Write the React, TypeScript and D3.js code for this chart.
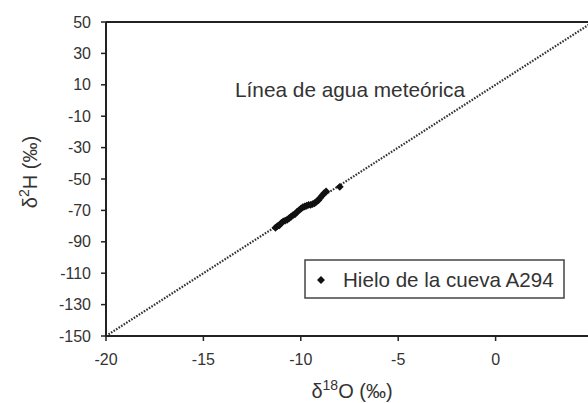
import React from "react";
import * as d3 from "d3";

const xTicks = [-20, -15, -10, -5, 0];
const yTicks = [-150, -130, -110, -90, -70, -50, -30, -10, 10, 30, 50];
const lmwlX = [-20, 5];
const iceX = [-11.3, -11.2, -11.1, -11.0, -10.9, -10.8, -10.7, -10.6, -10.5, -10.4, -10.3, -10.2, -10.1, -10.0, -9.9, -9.8, -9.7, -9.6, -9.5, -9.4, -9.3, -9.2, -9.1, -9.0, -8.9, -8.8, -8.7, -8.0];
const iceY = [-81, -80, -79.5, -78, -77, -76.5, -76, -75, -74, -73, -72.5, -71, -70, -69, -68, -67.5, -67, -66.5, -66.5, -66, -65.5, -64.5, -63.5, -62, -60.5, -59, -58, -55];

const W = 588, H = 403;
const m = { left: 106, top: 22, right: 593, bottom: 336 };
const font = "'Liberation Sans', Arial, sans-serif";

export default function App() {
  const x = d3.scaleLinear().domain([-20, 5]).range([m.left, m.right]);
  const y = d3.scaleLinear().domain([-150, 50]).range([m.bottom, m.top]);
  const line = d3.line<number>().x((v) => x(v)).y((v) => y(8 * v + 10));
  const diamond = d3.symbol().type(d3.symbolDiamond2).size(40)();
  const textColor = "#333";
  return (
    <svg width={W} height={H} style={{ position: "absolute", left: 0, top: 0, background: "#fff" }} fontFamily={font}>
      <rect x={0} y={0} width={W} height={H} fill="#fff" />
      {/* frame */}
      <line x1={m.left} x2={m.right} y1={m.top} y2={m.top} stroke="#222" strokeWidth={2} />
      <line x1={m.right} x2={m.right} y1={m.top} y2={m.bottom} stroke="#222" strokeWidth={2} />
      {/* meteoric line */}
      <path d={line(lmwlX) || ""} fill="none" stroke="#333" strokeWidth={2.2} strokeDasharray="1.6 1.4" />
      {/* points */}
      {iceX.map((v, i) => (
        <path key={i} d={diamond || ""} transform={`translate(${x(v)},${y(iceY[i])})`} fill="#111" />
      ))}
      {/* axes */}
      <line x1={m.left} x2={m.left} y1={m.top} y2={m.bottom + 1} stroke="#222" strokeWidth={2} />
      <line x1={m.left - 1} x2={m.right} y1={m.bottom} y2={m.bottom} stroke="#222" strokeWidth={2} />
      {yTicks.map((t) => (
        <g key={t}>
          <line x1={m.left - 5} x2={m.left} y1={y(t)} y2={y(t)} stroke="#222" strokeWidth={1.5} />
          <text x={m.left - 15} y={y(t)} dy="0.35em" textAnchor="end" fontSize={16} fill={textColor}>{t}</text>
        </g>
      ))}
      {xTicks.map((t) => (
        <g key={t}>
          <line x1={x(t)} x2={x(t)} y1={m.bottom} y2={m.bottom + 5} stroke="#222" strokeWidth={1.5} />
          <text x={x(t)} y={365} textAnchor="middle" fontSize={16} fill={textColor}>{t}</text>
        </g>
      ))}
      {/* axis titles */}
      <text x={352} y={398} textAnchor="middle" fontSize={20} fill={textColor}>
        δ<tspan fontSize={14} dy={-8}>18</tspan><tspan dy={8}>O (‰)</tspan>
      </text>
      <text transform="translate(37,172) rotate(-90)" textAnchor="middle" fontSize={20} fill={textColor}>
        δ<tspan fontSize={14} dy={-8}>2</tspan><tspan dy={8}>H (‰)</tspan>
      </text>
      {/* line label */}
      <text x={235} y={97} fontSize={20.8} fill={textColor}>Línea de agua meteórica</text>
      {/* legend */}
      <rect x={305} y={260} width={259} height={38} fill="#fff" stroke="#444" strokeWidth={1.5} />
      <path d={diamond || ""} transform={`translate(321,280)`} fill="#111" />
      <text x={343} y={287} fontSize={20.6} fill={textColor}>Hielo de la cueva A294</text>
    </svg>
  );
}
